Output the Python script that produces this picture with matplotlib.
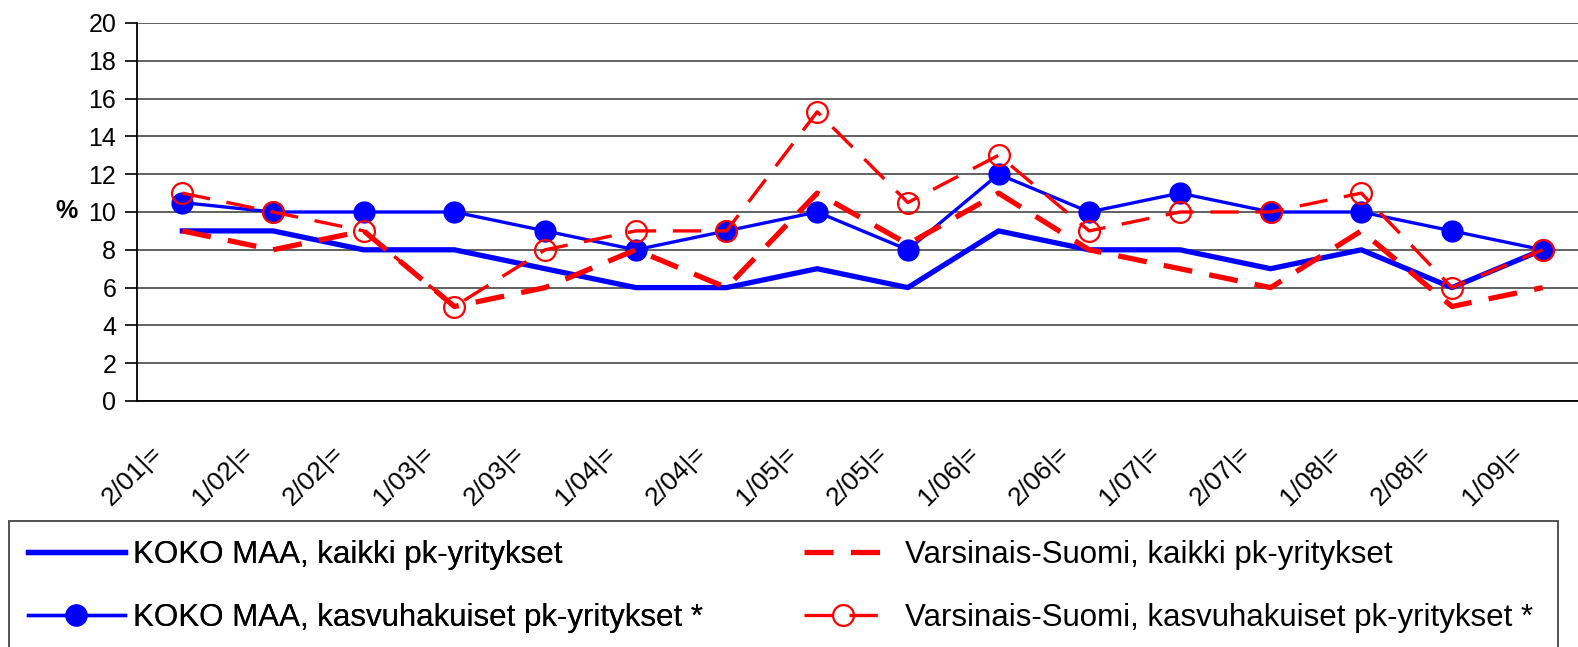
import matplotlib
matplotlib.use("Agg")
import matplotlib.pyplot as plt
import matplotlib.transforms as mtransforms
from matplotlib.patches import Rectangle

plt.rcParams['font.family'] = ['Liberation Sans', 'DejaVu Sans']

categories = ["2/01|=", "1/02|=", "2/02|=", "1/03|=", "2/03|=", "1/04|=", "2/04|=", "1/05|=",
              "2/05|=", "1/06|=", "2/06|=", "1/07|=", "2/07|=", "1/08|=", "2/08|=", "1/09|="]
koko_kaikki = [9, 9, 8, 8, 7, 6, 6, 7, 6, 9, 8, 8, 7, 8, 6, 8]
koko_kasvu = [10.5, 10, 10, 10, 9, 8, 9, 10, 8, 12, 10, 11, 10, 10, 9, 8]
vs_kaikki = [9, 8, 9, 5, 6, 8, 6, 11, 8.3, 11, 8, 7, 6, 9, 5, 6]
vs_kasvu = [11, 10, 9, 5, 8, 9, 9, 15.3, 10.5, 13, 9, 10, 10, 11, 6, 8]
labels = ["KOKO MAA, kaikki pk-yritykset",
          "KOKO MAA, kasvuhakuiset pk-yritykset *",
          "Varsinais-Suomi, kaikki pk-yritykset",
          "Varsinais-Suomi, kasvuhakuiset pk-yritykset *"]

W, H = 1578, 647
fig = plt.figure(figsize=(W / 100, H / 100), dpi=100)
ax = fig.add_axes([137 / W, 1 - 401 / H, (1588 - 137) / W, (401 - 23) / H])

x = list(range(len(categories)))
blue = "#0000FF"
red = "#FF0000"

l1, = ax.plot(x, koko_kaikki, color=blue, lw=3.8, zorder=3)
l2, = ax.plot(x, koko_kasvu, color=blue, lw=2.4, marker='o', markersize=15,
              markerfacecolor=blue, markeredgecolor=blue, zorder=4)
l3, = ax.plot(x, vs_kaikki, color=red, lw=3.8, dashes=(5.5, 3.3), zorder=5)
l4, = ax.plot(x, vs_kasvu, color=red, lw=2.4, dashes=(8.5, 5), marker='o', markersize=15,
              markerfacecolor='none', markeredgecolor=red, markeredgewidth=1.6, zorder=6)

ax.set_xlim(-0.5, len(categories) - 0.5)
ax.set_ylim(0, 20)
ax.set_yticks(range(0, 21, 2))
ax.yaxis.grid(True, color='#555555', lw=1.3)
ax.set_axisbelow(True)
for s in ['top', 'right']:
    ax.spines[s].set_visible(False)
ax.spines['left'].set_linewidth(1.3)
ax.spines['bottom'].set_linewidth(1.3)
ax.tick_params(axis='y', labelsize=18, length=9, width=1.2, pad=6)
ax.tick_params(axis='x', length=0, pad=8)
ax.set_xticks(x)
ax.set_xticklabels(categories, rotation=45, ha='right', va='top', rotation_mode='anchor', fontsize=19)
offset = mtransforms.ScaledTranslation(-0.33, -0.29, fig.dpi_scale_trans)
for lab in ax.get_xticklabels():
    lab.set_transform(lab.get_transform() + offset)

fig.text(66 / W, 1 - 211 / H, "%", fontsize=18, fontweight='bold', ha='center', va='center')

# legend box
fig.patches.append(Rectangle((9 / W, -0.05), (1558 - 9) / W, (1 - 521 / H) + 0.05,
                             transform=fig.transFigure, fill=False, edgecolor='#444444', lw=1.3))

leg1 = fig.legend([l1, l2], labels[:2], loc='upper left', bbox_to_anchor=(28 / W, 1 - 540 / H),
                  frameon=False, fontsize=22.5, handlelength=3.1, handletextpad=0.26,
                  labelspacing=1.05, borderpad=0, borderaxespad=0)
leg2 = fig.legend([l3, l4], labels[2:], loc='upper left', bbox_to_anchor=(804 / W, 1 - 540 / H),
                  frameon=False, fontsize=22.5, handlelength=2.5, handletextpad=0.74,
                  labelspacing=1.05, borderpad=0, borderaxespad=0)
fig.add_artist(leg1)

fig.savefig("out.png", dpi=100)
